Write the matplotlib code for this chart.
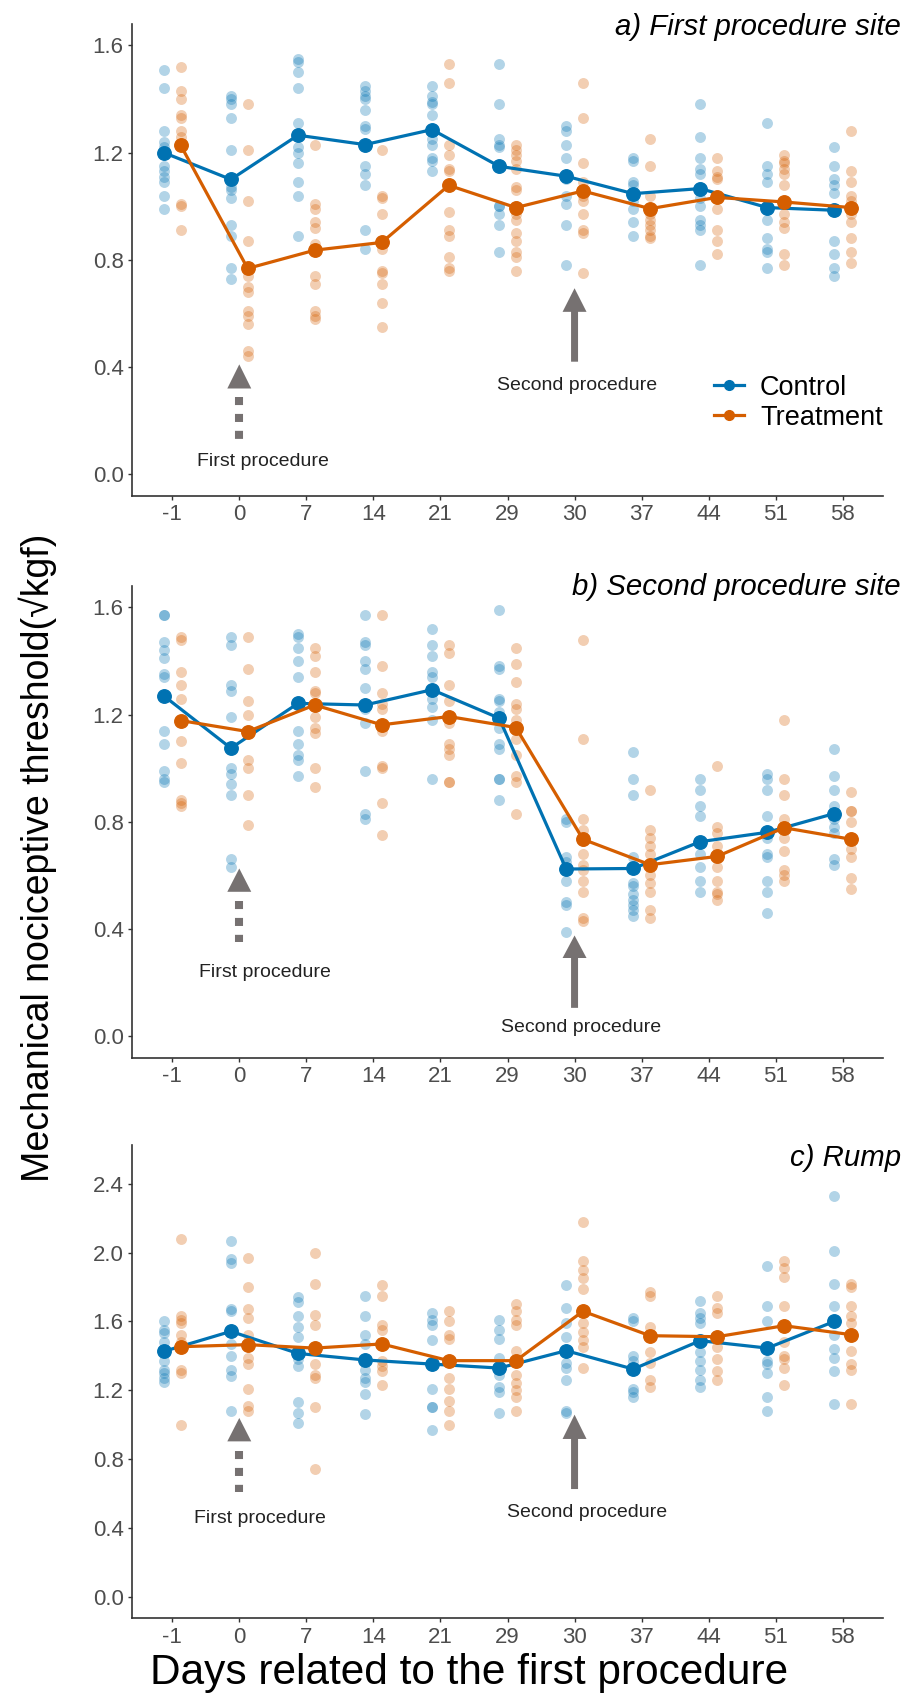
import matplotlib
matplotlib.use('Agg')
import matplotlib.pyplot as plt
from matplotlib.patches import FancyArrow, Polygon
from matplotlib.lines import Line2D
import numpy as np

plt.rcParams['font.family'] = ['Liberation Sans', 'DejaVu Sans']

days = ['-1', '0', '7', '14', '21', '29', '30', '37', '44', '51', '58']
groups = ['Control', 'Treatment']
titles = ['a) First procedure site', 'b) Second procedure site', 'c) Rump']
xlabel = 'Days related to the first procedure'
ylabel = 'Mechanical nociceptive threshold(\u221akgf)'

# ---------------- Panel a: first procedure site ----------------
a_control_pts = [
    [1.51, 1.44, 1.28, 1.24, 1.22, 1.20, 1.15, 1.13, 1.11, 1.09, 1.04, 0.99],
    [1.41, 1.40, 1.38, 1.33, 1.21, 1.10, 1.07, 1.06, 1.03, 0.93, 0.89, 0.77, 0.73],
    [1.55, 1.54, 1.50, 1.44, 1.31, 1.27, 1.22, 1.20, 1.16, 1.09, 1.04, 0.89],
    [1.45, 1.43, 1.41, 1.40, 1.36, 1.30, 1.29, 1.23, 1.15, 1.12, 1.08, 0.91, 0.84],
    [1.45, 1.41, 1.39, 1.38, 1.34, 1.29, 1.25, 1.23, 1.18, 1.17, 1.13],
    [1.53, 1.38, 1.25, 1.23, 1.22, 1.15, 1.00, 1.00, 0.97, 0.93, 0.83],
    [1.30, 1.28, 1.23, 1.18, 1.11, 1.10, 1.04, 1.01, 0.93, 0.78],
    [1.18, 1.17, 1.09, 1.08, 1.05, 1.02, 0.99, 0.94, 0.89],
    [1.38, 1.26, 1.18, 1.14, 1.12, 1.07, 1.03, 1.00, 0.95, 0.93, 0.91, 0.78],
    [1.31, 1.15, 1.12, 1.09, 1.00, 0.95, 0.88, 0.84, 0.83, 0.77],
    [1.22, 1.15, 1.10, 1.08, 1.05, 0.99, 0.87, 0.82, 0.77, 0.74],
]
a_treatment_pts = [
    [1.52, 1.43, 1.40, 1.34, 1.33, 1.28, 1.26, 1.23, 1.01, 1.00, 0.91],
    [1.38, 1.21, 1.02, 0.87, 0.77, 0.74, 0.70, 0.68, 0.61, 0.59, 0.56, 0.46, 0.44],
    [1.23, 1.01, 0.99, 0.94, 0.92, 0.86, 0.84, 0.74, 0.71, 0.61, 0.59, 0.58],
    [1.21, 1.04, 1.03, 0.97, 0.87, 0.84, 0.76, 0.75, 0.71, 0.64, 0.55],
    [1.53, 1.46, 1.23, 1.19, 1.14, 1.13, 1.08, 0.98, 0.91, 0.89, 0.81, 0.77, 0.76],
    [1.23, 1.21, 1.19, 1.17, 1.14, 1.07, 1.06, 1.00, 0.97, 0.95, 0.90, 0.87, 0.83, 0.81, 0.76],
    [1.46, 1.33, 1.16, 1.09, 1.06, 1.04, 1.02, 0.97, 0.91, 0.90, 0.75],
    [1.25, 1.15, 1.04, 0.99, 0.97, 0.95, 0.93, 0.91, 0.89, 0.88],
    [1.18, 1.13, 1.11, 1.10, 1.03, 0.99, 0.91, 0.87, 0.82],
    [1.19, 1.17, 1.16, 1.14, 1.12, 1.08, 1.02, 0.97, 0.94, 0.92, 0.82, 0.78],
    [1.28, 1.13, 1.09, 1.04, 1.02, 1.00, 0.97, 0.94, 0.88, 0.83, 0.79],
]
a_control_mean = [1.20, 1.10, 1.265, 1.23, 1.286, 1.149, 1.112, 1.047, 1.066, 0.995, 0.985]
a_treatment_mean = [1.228, 0.768, 0.836, 0.865, 1.078, 0.995, 1.057, 0.991, 1.033, 1.016, 0.995]

# ---------------- Panel b: second procedure site ----------------
b_control_pts = [
    [1.57, 1.57, 1.47, 1.44, 1.41, 1.35, 1.34, 1.27, 1.14, 1.09, 0.99, 0.96, 0.95],
    [1.49, 1.46, 1.31, 1.29, 1.19, 1.08, 1.00, 0.98, 0.94, 0.90, 0.66, 0.63],
    [1.50, 1.49, 1.45, 1.40, 1.34, 1.24, 1.14, 1.09, 1.05, 1.03, 0.97],
    [1.57, 1.47, 1.46, 1.40, 1.37, 1.30, 1.24, 1.22, 1.17, 0.99, 0.83, 0.81],
    [1.52, 1.46, 1.42, 1.36, 1.34, 1.29, 1.26, 1.23, 1.18, 0.96],
    [1.59, 1.38, 1.37, 1.26, 1.25, 1.21, 1.19, 1.15, 1.09, 1.07, 0.96, 0.96, 0.88],
    [0.81, 0.80, 0.67, 0.65, 0.62, 0.58, 0.50, 0.49, 0.39],
    [1.06, 0.96, 0.90, 0.67, 0.63, 0.57, 0.56, 0.53, 0.51, 0.49, 0.47, 0.45],
    [0.96, 0.92, 0.86, 0.82, 0.73, 0.68, 0.63, 0.58, 0.54],
    [0.98, 0.96, 0.92, 0.82, 0.76, 0.74, 0.68, 0.67, 0.58, 0.54, 0.46],
    [1.07, 0.97, 0.92, 0.86, 0.83, 0.81, 0.78, 0.76, 0.66, 0.64],
]
b_treatment_pts = [
    [1.49, 1.48, 1.36, 1.31, 1.26, 1.18, 1.10, 1.02, 0.88, 0.87, 0.86],
    [1.49, 1.37, 1.25, 1.20, 1.14, 1.03, 1.00, 0.90, 0.79],
    [1.45, 1.42, 1.36, 1.29, 1.28, 1.24, 1.19, 1.15, 1.13, 1.00, 0.93],
    [1.57, 1.38, 1.28, 1.24, 1.22, 1.16, 1.14, 1.01, 1.00, 0.87, 0.75],
    [1.46, 1.43, 1.31, 1.25, 1.19, 1.17, 1.09, 1.07, 1.05, 0.95, 0.95],
    [1.45, 1.39, 1.32, 1.24, 1.22, 1.18, 1.15, 1.11, 1.05, 0.97, 0.95, 0.83],
    [1.48, 1.11, 0.81, 0.77, 0.73, 0.68, 0.64, 0.62, 0.58, 0.54, 0.44, 0.43],
    [0.92, 0.77, 0.74, 0.71, 0.68, 0.63, 0.60, 0.57, 0.54, 0.47, 0.44],
    [1.01, 0.78, 0.76, 0.71, 0.67, 0.63, 0.58, 0.54, 0.53, 0.51],
    [1.18, 0.96, 0.90, 0.81, 0.78, 0.74, 0.69, 0.62, 0.60, 0.58],
    [0.91, 0.84, 0.84, 0.80, 0.74, 0.70, 0.67, 0.59, 0.55],
]
b_control_mean = [1.270, 1.075, 1.242, 1.236, 1.293, 1.187, 0.624, 0.626, 0.726, 0.761, 0.831]
b_treatment_mean = [1.178, 1.137, 1.236, 1.162, 1.193, 1.152, 0.735, 0.640, 0.671, 0.778, 0.735]

# ---------------- Panel c: rump ----------------
c_control_pts = [
    [1.60, 1.55, 1.53, 1.48, 1.43, 1.42, 1.37, 1.32, 1.30, 1.27, 1.25],
    [2.07, 1.96, 1.94, 1.67, 1.66, 1.54, 1.47, 1.40, 1.32, 1.28, 1.08],
    [1.74, 1.71, 1.63, 1.57, 1.51, 1.41, 1.38, 1.34, 1.13, 1.07, 1.01],
    [1.75, 1.63, 1.52, 1.47, 1.38, 1.32, 1.27, 1.25, 1.18, 1.06],
    [1.65, 1.61, 1.58, 1.49, 1.35, 1.21, 1.10, 1.10, 0.97],
    [1.61, 1.55, 1.50, 1.39, 1.33, 1.29, 1.22, 1.19, 1.07],
    [1.81, 1.68, 1.59, 1.51, 1.43, 1.36, 1.33, 1.26, 1.08, 1.07],
    [1.62, 1.60, 1.40, 1.37, 1.32, 1.21, 1.19, 1.16],
    [1.72, 1.65, 1.62, 1.59, 1.49, 1.42, 1.37, 1.32, 1.26, 1.22],
    [1.92, 1.69, 1.60, 1.45, 1.37, 1.35, 1.30, 1.16, 1.08],
    [2.33, 2.01, 1.82, 1.69, 1.60, 1.52, 1.44, 1.39, 1.31, 1.12],
]
c_treatment_pts = [
    [2.08, 1.63, 1.61, 1.59, 1.52, 1.48, 1.45, 1.32, 1.30, 1.00],
    [1.97, 1.80, 1.67, 1.62, 1.52, 1.47, 1.39, 1.35, 1.21, 1.11, 1.08],
    [2.00, 1.82, 1.64, 1.58, 1.45, 1.35, 1.29, 1.27, 1.10, 0.74],
    [1.81, 1.75, 1.58, 1.55, 1.47, 1.37, 1.34, 1.31, 1.23],
    [1.66, 1.60, 1.52, 1.50, 1.37, 1.27, 1.21, 1.14, 1.08, 1.00],
    [1.70, 1.66, 1.61, 1.58, 1.43, 1.37, 1.29, 1.24, 1.20, 1.16, 1.08],
    [2.18, 1.95, 1.90, 1.85, 1.79, 1.66, 1.59, 1.54, 1.49, 1.45, 1.33],
    [1.77, 1.75, 1.57, 1.52, 1.42, 1.36, 1.26, 1.22],
    [1.75, 1.68, 1.65, 1.51, 1.45, 1.38, 1.31, 1.26],
    [1.95, 1.91, 1.86, 1.69, 1.58, 1.48, 1.40, 1.38, 1.33, 1.23],
    [1.82, 1.80, 1.69, 1.63, 1.59, 1.52, 1.43, 1.35, 1.32, 1.12],
]
c_control_mean = [1.426, 1.542, 1.414, 1.376, 1.352, 1.329, 1.430, 1.323, 1.488, 1.445, 1.600]
c_treatment_mean = [1.453, 1.465, 1.445, 1.469, 1.372, 1.372, 1.659, 1.517, 1.511, 1.575, 1.523]

# ---------------- layout / style ----------------
COL = {'Control': '#0072B2', 'Treatment': '#D55E00'}
ARROW_COL = '#767171'
W, H = 906, 1704
AX_L, AX_R = 132, 883
panel_px = [(24, 495.7), (586, 1057.7), (1145, 1618.3)]   # top, bottom in px
ylims = [(-0.08, 1.68), (-0.08, 1.68), (-0.125, 2.625)]
yticks = [np.arange(0, 1.61, 0.4), np.arange(0, 1.61, 0.4), np.arange(0, 2.41, 0.4)]
title_y_px = [27, 587, 1158]
# annotation specs
ann_first = [(0.41, 0.32, 0.288, 0.130, 1.35, 0.047),
             (0.626, 0.539, 0.504, 0.350, 1.38, 0.238),
             (1.039, 0.903, 0.845, 0.606, 1.31, 0.452)]
ann_second = [(0.694, 0.606, 0.42, 6.04, 0.33),
              (0.376, 0.292, 0.106, 6.10, 0.032),
              (1.058, 0.917, 0.626, 6.19, 0.49)]

fig = plt.figure(figsize=(W / 100, H / 100), dpi=100)

panels = [
    (a_control_pts, a_treatment_pts, a_control_mean, a_treatment_mean),
    (b_control_pts, b_treatment_pts, b_control_mean, b_treatment_mean),
    (c_control_pts, c_treatment_pts, c_control_mean, c_treatment_mean),
]
dodge = {'Control': -0.125, 'Treatment': 0.125}
xpos = np.arange(len(days))

for i, (cpts, tpts, cmean, tmean) in enumerate(panels):
    top, bot = panel_px[i]
    ax = fig.add_axes([AX_L / W, 1 - bot / H, (AX_R - AX_L) / W, (bot - top) / H])
    for g, pts in (('Control', cpts), ('Treatment', tpts)):
        xs, ys = [], []
        for k, vals in enumerate(pts):
            xs += [xpos[k] + dodge[g]] * len(vals)
            ys += list(vals)
        ax.scatter(xs, ys, s=62, color=COL[g], alpha=0.3, linewidths=0, zorder=2)
    for g, mean in (('Control', cmean), ('Treatment', tmean)):
        ax.plot(xpos + dodge[g], mean, color=COL[g], lw=2.3, marker='o', markersize=9.7,
                zorder=4, label=g)
    ax.set_xlim(-0.6, 10.6)
    ax.set_ylim(*ylims[i])
    ax.set_xticks(xpos)
    ax.set_xticklabels(days)
    ax.set_yticks(yticks[i])
    ax.set_yticklabels(['%.1f' % v for v in yticks[i]])
    for s in ('top', 'right'):
        ax.spines[s].set_visible(False)
    for s in ('left', 'bottom'):
        ax.spines[s].set_color('#333333')
        ax.spines[s].set_linewidth(1.2)
    ax.tick_params(axis='both', colors='#333333', length=3, width=1.0, labelsize=16,
                   labelcolor='#4D4D4D', pad=3)

    # first procedure (dashed arrow)
    tip, base, dtop, dbot, tx, ty = ann_first[i]
    hw = 12 / 67.2
    ax.add_patch(Polygon([[1 - hw, base], [1 + hw, base], [1, tip]], closed=True,
                         color=ARROW_COL, lw=0, zorder=3))
    ax.plot([1, 1], [dtop, dbot], color=ARROW_COL, lw=5.8, dashes=(1.0, 1.1),
            dash_capstyle='butt', solid_capstyle='butt', zorder=3)
    ax.text(tx, ty, 'First procedure', ha='center', va='center', fontsize=14, color='#222222')

    # second procedure (solid arrow)
    tip, base, bottom, tx, ty = ann_second[i]
    ax.add_patch(FancyArrow(6, bottom, 0, tip - bottom, width=7 / 67.2, head_width=24 / 67.2,
                            head_length=tip - base, length_includes_head=True,
                            color=ARROW_COL, lw=0, zorder=3))
    ax.text(tx, ty, 'Second procedure', ha='center', va='center', fontsize=14, color='#222222')

    fig.text(901 / W, 1 - title_y_px[i] / H, titles[i], ha='right', va='center',
             fontsize=21.2, style='italic', color='black')

    if i == 0:
        handles = [Line2D([], [], color=COL[g], lw=2.3, marker='o', markersize=7) for g in groups]
        ax.legend(handles, groups, loc='center left', bbox_to_anchor=(0.775, 0.197),
                  frameon=False, fontsize=19.5, handlelength=1.1, handletextpad=0.6,
                  labelspacing=0.15, borderpad=0, borderaxespad=0)

fig.text(469 / W, 1 - 1673 / H, xlabel, ha='center', va='center', fontsize=30.5, color='black')
fig.text(38 / W, 1 - 858 / H, ylabel, ha='center', va='center', rotation=90, fontsize=27,
         color='black')

fig.savefig('out.png', dpi=100)
